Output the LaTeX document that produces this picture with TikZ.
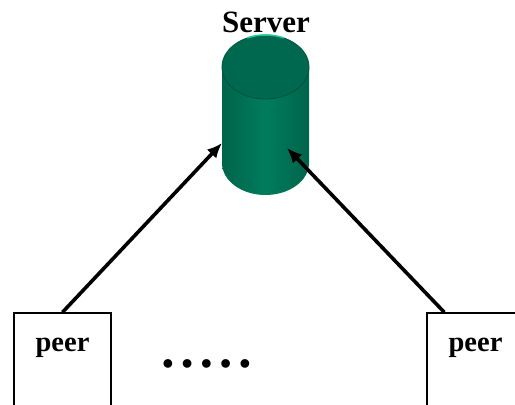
\documentclass[tikz,border=0pt]{standalone}
\usepackage{fontspec}
\setmainfont{Liberation Serif}
\usetikzlibrary{arrows, arrows.meta}

\definecolor{srvgreen}{RGB}{0,124,92}
\definecolor{srvdark}{RGB}{0,100,74}
\definecolor{srvedge}{RGB}{0,84,62}
\definecolor{srvtop}{RGB}{0,104,78}
\definecolor{srvlight}{RGB}{30,200,150}

\begin{document}
\begin{tikzpicture}[x=1pt,y=1pt,
  peerbox/.style={draw, line width=1.5pt, inner sep=0pt, minimum width=97pt,
    text height=39pt, text depth=120pt, font=\fontsize{28.5}{30}\selectfont\bfseries},
  link/.style={line width=3.6pt, -{Latex[length=15pt,width=13pt]}}]
%\draw[step=50,gray,very thin] (0,0) grid (515,405); %background grid
\useasboundingbox (0,0) rectangle (515,405);
\clip (0,0) rectangle (515,405);

% server
\shade[left color=srvdark, right color=srvdark, middle color=srvgreen]
  (222,338) -- (222,242) arc[start angle=180, end angle=360, x radius=43.5, y radius=32]
  -- (309,338) -- cycle;
\fill[srvtop, draw=srvedge, line width=0.8pt] (265.5,338) ellipse [x radius=43.5, y radius=32];
\draw[srvlight, line width=1.5pt] (265.5,338) ++(65:43.5 and 32)
  arc[start angle=65, end angle=115, x radius=43.5, y radius=32];
\node[font=\fontsize{31}{32}\selectfont\bfseries] (server) at (266,383) {Server};

\coordinate (inA) at (222,262);
\coordinate (inB) at (287,257);

% peers
\node[peerbox, anchor=base] (peerA) at (62.5,53) {peer};
\node[peerbox, anchor=base] (peerB) at (475.5,53) {peer};
\node[font=\fontsize{32}{32}\selectfont\bfseries] (more) at (206.5,38) {• • • • •};

\draw[link] (peerA.north) -- (inA);
\draw[link] ([xshift=18pt]peerB.north west) -- (inB);

\end{tikzpicture}
\end{document}
